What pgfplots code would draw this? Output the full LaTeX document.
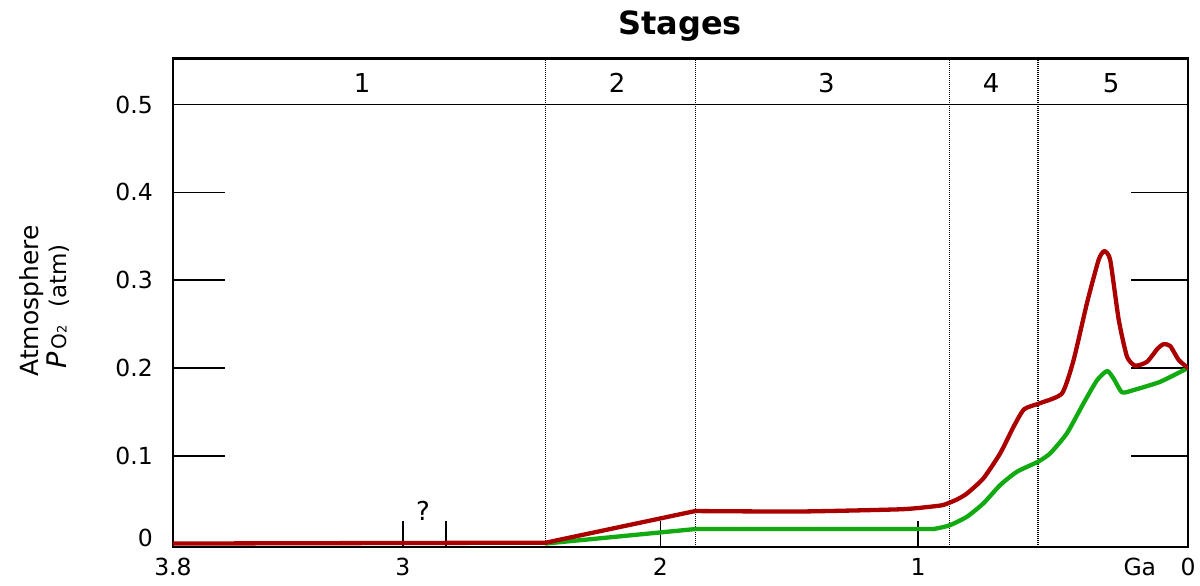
\documentclass[border=0pt]{standalone}
\usepackage{pgfplots}
\pgfplotsset{compat=1.18}
\usepackage{fontspec}
\setmainfont{DejaVu Sans}
\definecolor{redc}{HTML}{AA0000}
\definecolor{greenc}{HTML}{11AA11}

% straight early parts
\pgfplotstableread{
x y
3.892 0.000
2.445 0.001
1.865 0.037
}\redearly
\pgfplotstableread{
x y
1.865 0.037
1.457 0.0365
1.069 0.039
0.950 0.042
0.901 0.044
0.850 0.050
0.810 0.057
0.746 0.0743
0.681 0.1027
0.629 0.133
0.588 0.153
0.525 0.160
0.441 0.171
0.396 0.209
0.344 0.274
0.299 0.323
0.277 0.333
0.254 0.323
0.221 0.255
0.189 0.213
0.157 0.2025
0.111 0.207
0.070 0.222
0.047 0.227
0.021 0.225
-0.012 0.209
-0.048 0.200
}\redlate

\pgfplotstableread{
x y
2.445 0.000
1.865 0.0165
0.940 0.0165
}\greenearly
\pgfplotstableread{
x y
0.940 0.0165
0.914 0.018
0.875 0.021
0.810 0.0305
0.746 0.0458
0.681 0.0666
0.616 0.0818
0.534 0.0932
0.487 0.1027
0.422 0.1255
0.357 0.160
0.305 0.186
0.266 0.1965
0.241 0.188
0.208 0.1722
0.163 0.1748
0.059 0.1843
-0.048 0.200
}\greenlate

\begin{document}
\begin{tikzpicture}[x=1pt,y=1pt]
\useasboundingbox (0,0) rectangle (1200,-586);
\begin{axis}[
  at={(173pt,-546.7pt)}, anchor=south west,
  width=1015pt, height=488.4pt, scale only axis,
  x dir=reverse,
  xmin=-0.048, xmax=3.892, ymin=-0.0036, ymax=0.5526,
  axis line style={line width=2.4pt},
  tick align=inside, xtick pos=bottom, ytick pos=left,
  major tick length=26pt,
  tick style={line width=1.6pt, black},
  xtick={3.892,3,2.833,2,1,-0.048},
  xticklabels={3.8,3,,2,1,0},
  ytick={0.1,0.2,0.3,0.4},
  yticklabels={0.1,0.2,0.3,0.4},
  extra y ticks={0.006,0.5}, extra y tick labels={0,0.5},
  extra y tick style={major tick style={draw=none}},
  extra x ticks={0.139}, extra x tick labels={Ga},
  extra x tick style={major tick style={draw=none}},
  ticklabel style={font=\fontsize{23.5}{23.5}\selectfont, inner sep=0pt},
  xticklabel style={anchor=north, yshift=-11pt},
  yticklabel style={anchor=east, xshift=-20pt},
  /pgf/number format/assume math mode=true,
]
% stage band and boundaries
\draw[line width=1.8pt] (axis cs:3.892,0.5) -- (axis cs:-0.048,0.5);
\draw[line width=1.2pt, dash pattern=on 1pt off 1pt] (axis cs:2.445,-0.0036) -- (axis cs:2.445,0.5526);
\draw[line width=1.2pt, dash pattern=on 1pt off 1pt] (axis cs:1.865,-0.0036) -- (axis cs:1.865,0.5526);
\draw[line width=1.2pt, dash pattern=on 1pt off 1pt] (axis cs:0.8788,-0.0036) -- (axis cs:0.8788,0.5526);
\draw[line width=1.2pt, dash pattern=on 1pt off 1pt] (axis cs:0.5344,-0.0036) -- (axis cs:0.5344,0.5526);
% y tick marks
\draw[line width=1.6pt] (axis cs:3.892,0.1) -- ++(52pt,0pt);
\draw[line width=1.6pt] (axis cs:3.892,0.2) -- ++(52pt,0pt);
\draw[line width=1.6pt] (axis cs:3.892,0.3) -- ++(52pt,0pt);
\draw[line width=1.6pt] (axis cs:3.892,0.4) -- ++(52pt,0pt);
\draw[line width=1.6pt] (axis cs:-0.048,0.1) -- ++(-57pt,0pt);
\draw[line width=1.6pt] (axis cs:-0.048,0.2) -- ++(-57pt,0pt);
\draw[line width=1.6pt] (axis cs:-0.048,0.3) -- ++(-57pt,0pt);
\draw[line width=1.6pt] (axis cs:-0.048,0.4) -- ++(-57pt,0pt);
\node[font=\fontsize{26}{26}\selectfont] at (axis cs:3.158,0.5245) {1};
\node[font=\fontsize{26}{26}\selectfont] at (axis cs:2.168,0.5245) {2};
\node[font=\fontsize{26}{26}\selectfont] at (axis cs:1.356,0.5245) {3};
\node[font=\fontsize{26}{26}\selectfont] at (axis cs:0.716,0.5245) {4};
\node[font=\fontsize{26}{26}\selectfont] at (axis cs:0.250,0.5245) {5};

\addplot[greenc, line width=4.3pt, line join=round, line cap=round] table {\greenearly};
\addplot[greenc, line width=4.3pt, smooth, tension=0.35, line join=round, line cap=round] table {\greenlate};
\addplot[redc, line width=4.3pt, line join=round, line cap=round] table {\redearly};
\addplot[redc, line width=4.3pt, smooth, tension=0.35, line join=round, line cap=round] table {\redlate};
\end{axis}
\node[font=\bfseries\fontsize{32}{32}\selectfont, anchor=base] at (680,-35) {Stages};
\node[font=\fontsize{26}{26}\selectfont, anchor=base] at (423,-520) {?};
\node[rotate=90, anchor=base, font=\fontsize{25}{25}\selectfont] at (38,-301) {Atmosphere};
\node[rotate=90, anchor=base] at (66.7,-306.5) {{\fontsize{27}{27}\selectfont\itshape P}\hspace{3pt}{\fontsize{20}{20}\selectfont O}{\fontsize{13}{13}\selectfont 2}\hspace{18pt}{\fontsize{23}{23}\selectfont (atm)}};
\end{tikzpicture}
\end{document}
